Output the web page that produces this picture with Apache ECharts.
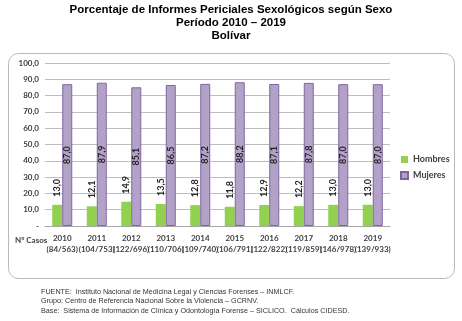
<!DOCTYPE html>
<html><head><meta charset="utf-8">
<script src="https://cdn.jsdelivr.net/npm/echarts@6/dist/echarts.min.js"></script>
<style>html,body{margin:0;padding:0;background:#fff}#c{width:462px;height:321px}</style>
</head><body><div id="c"></div>
<script>
const years = ['2010','2011','2012','2013','2014','2015','2016','2017','2018','2019'];
const casos = ['84/563','104/753','122/696','110/706','109/740','106/791','122/822','119/859','146/978','139/933'];
const hombres = [13.0,12.1,14.9,13.5,12.8,11.8,12.9,12.2,13.0,13.0];
const mujeres = [87.0,87.9,85.1,86.5,87.2,88.2,87.1,87.8,87.0,87.0];
const yTicks = {min:0, max:100, interval:10};
const titleLines = ['Porcentaje de Informes Periciales Sexológicos según Sexo','Período 2010 – 2019','Bolívar'];
const notes = ['FUENTE:  Instituto Nacional de Medicina Legal y Ciencias Forenses – INMLCF.',
 'Grupo: Centro de Referencia Nacional Sobre la Violencia – GCRNV.',
 'Base:  Sistema de Información de Clínica y Odontología Forense – SICLICO.  Cálculos CIDESD.'];

const fmt = v => v.toFixed(1).replace('.', ',');
const chart = echarts.init(document.getElementById('c'), null, {renderer:'canvas'});
const F = 'Lato, "Open Sans", sans-serif';
const TF = 'bold 11.5px "Liberation Sans", Arial, sans-serif';
chart.setOption({
  animation:false,
  textStyle:{fontFamily:F},
  graphic:[
    {type:'rect', shape:{x:8.5,y:53.5,width:446,height:225,r:10}, style:{fill:'#fff',stroke:'#b8b8b8',lineWidth:1}, z:-10},
    {type:'text', left:'center', top:4, style:{text:titleLines[0], font:TF, fill:'#000'}},
    {type:'text', left:'center', top:17, style:{text:titleLines[1], font:TF, fill:'#000'}},
    {type:'text', left:'center', top:30, style:{text:titleLines[2], font:TF, fill:'#000'}},
    {type:'text', left:15, top:236, style:{text:'Nº Casos', font:'bold 8px '+F, fill:'#404040'}},
    {type:'text', left:41, top:287, style:{text:notes.join('\n'), font:'7.2px "Liberation Sans", Arial, sans-serif', lineHeight:9.5, fill:'#333'}}
  ],
  legend:{orient:'vertical', left:395, top:150, itemWidth:7, itemHeight:7, itemGap:7, icon:'rect',
    textStyle:{fontSize:9, fontWeight:'bold', color:'#404040', fontFamily:F}, data:['Hombres','Mujeres']},
  grid:{left:45, right:72, top:63, bottom:95},
  xAxis:{type:'category', data:years,
    axisLine:{lineStyle:{color:'#a6a6a6'}}, axisTick:{show:false},
    axisLabel:{interval:0, margin:6, color:'#404040', fontSize:8,
      formatter:(v,i)=>'{a|'+v+'}\n{b|('+casos[i]+')}',
      rich:{a:{fontWeight:'bold',fontSize:8,lineHeight:12,fontFamily:F,color:'#404040'},b:{fontWeight:'bold',fontSize:8,lineHeight:11,fontFamily:F,color:'#404040'}}}},
  yAxis:{type:'value', min:yTicks.min, max:yTicks.max, interval:yTicks.interval,
    axisLine:{show:false}, axisTick:{show:false},
    splitLine:{lineStyle:{color:'#bfbfbf'}},
    axisLabel:{fontSize:8, fontWeight:'bold', color:'#404040', margin:6, formatter:v=>v===0?'-':fmt(v)}},
  series:[
    {name:'Hombres', type:'bar', data:hombres, barWidth:10, barGap:'0%',
      itemStyle:{color:'#92d050'},
      label:{show:true, position:'top', rotate:90, align:'left', verticalAlign:'middle', distance:8,
        formatter:p=>fmt(p.value), fontSize:9, fontWeight:'bold', color:'#262626'}},
    {name:'Mujeres', type:'bar', data:mujeres, barWidth:10,
      itemStyle:{color:'#b3a2c7', borderColor:'#8064a2', borderWidth:1},
      label:{show:true, position:'inside', rotate:90, align:'center', verticalAlign:'middle',
        formatter:p=>fmt(p.value), fontSize:9, fontWeight:'bold', color:'#262626'}}
  ]
});
</script></body></html>
